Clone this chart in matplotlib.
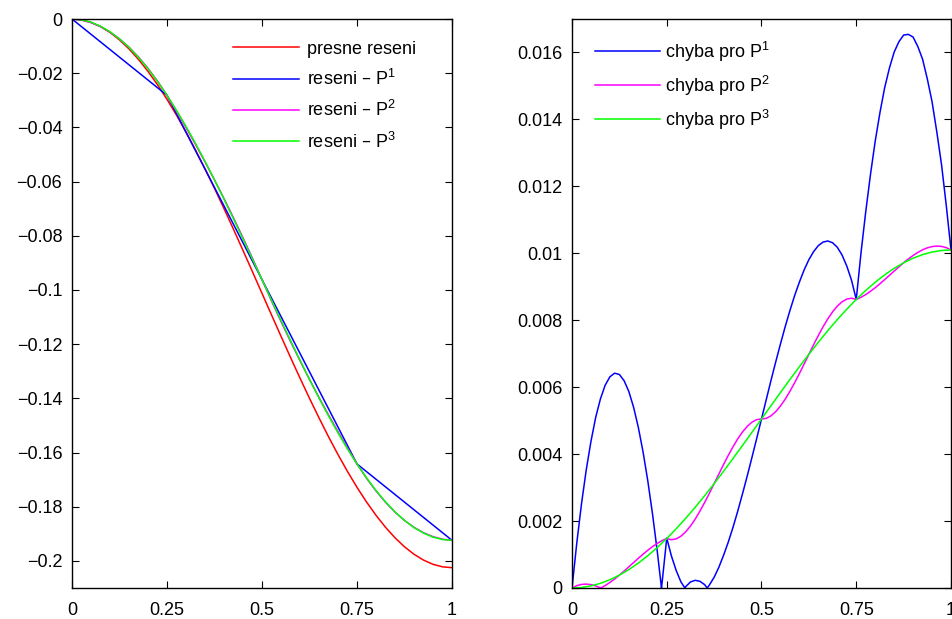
#!/usr/bin/env python3

import matplotlib
matplotlib.use('Agg')
import matplotlib.pyplot as plt
from matplotlib.ticker import FuncFormatter

plt.rcParams['font.family'] = ['Liberation Sans', 'DejaVu Sans']
plt.rcParams['mathtext.default'] = 'regular'

# left panel: solution curves
x_sol = [0, 0.025, 0.05, 0.075, 0.1, 0.125, 0.15, 0.175, 0.2, 0.225, 0.25,
         0.275, 0.3, 0.325, 0.35, 0.375, 0.4, 0.425, 0.45, 0.475, 0.5,
         0.525, 0.55, 0.575, 0.6, 0.625, 0.65, 0.675, 0.7, 0.725, 0.75,
         0.775, 0.8, 0.825, 0.85, 0.875, 0.9, 0.925, 0.95, 0.975, 1]
u_exact = [0, -0.000312, -0.001247, -0.002798, -0.004956, -0.007707,
           -0.011036, -0.01492, -0.019337, -0.024259, -0.029656, -0.035495,
           -0.041737, -0.048347, -0.055284, -0.062503, -0.069962, -0.077614,
           -0.085411, -0.093306, -0.10125, -0.109194, -0.117089, -0.124886,
           -0.132538, -0.139997, -0.147216, -0.154153, -0.160763, -0.167005,
           -0.172844, -0.178241, -0.183163, -0.18758, -0.191464, -0.194793,
           -0.197544, -0.199702, -0.201253, -0.202188, -0.2025]
u_p2 = [0, -0.000418, -0.001347, -0.002801, -0.00479, -0.007323, -0.010403,
        -0.014033, -0.01821, -0.022927, -0.028176, -0.034027, -0.040058,
        -0.046289, -0.052728, -0.059386, -0.066271, -0.073389, -0.080748,
        -0.08835, -0.0962, -0.10405, -0.111652, -0.11901, -0.126129,
        -0.133014, -0.139672, -0.146111, -0.152342, -0.158373, -0.164224,
        -0.169473, -0.17419, -0.178367, -0.181997, -0.185077, -0.18761,
        -0.189599, -0.191053, -0.191982, -0.1924]
u_p3 = [0, -0.000296, -0.001184, -0.002658, -0.004708, -0.007323, -0.010485,
        -0.014176, -0.018373, -0.023049, -0.028176, -0.033725, -0.039655,
        -0.045936, -0.052526, -0.059386, -0.066473, -0.073742, -0.081151,
        -0.088652, -0.0962, -0.103748, -0.111249, -0.118657, -0.125927,
        -0.133014, -0.139874, -0.146464, -0.152745, -0.158675, -0.164224,
        -0.169351, -0.174027, -0.178224, -0.181915, -0.185077, -0.187692,
        -0.189742, -0.191216, -0.192104, -0.1924]
x_nodes = [0, 0.25, 0.5, 0.75, 1]
u_p1 = [0, -0.028176, -0.0962, -0.164224, -0.1924]

# right panel: errors
x_err1 = [0, 0.0125, 0.025, 0.0375, 0.05, 0.0625, 0.075, 0.0875, 0.1, 0.1125,
          0.125, 0.1375, 0.15, 0.1625, 0.175, 0.1875, 0.2, 0.2125, 0.225,
          0.2361, 0.2375, 0.25, 0.2625, 0.275, 0.2875, 0.2979, 0.3, 0.3125,
          0.325, 0.3375, 0.35, 0.3567, 0.3625, 0.375, 0.3875, 0.4, 0.4125,
          0.425, 0.4375, 0.45, 0.4625, 0.475, 0.4875, 0.5, 0.5125, 0.525,
          0.5375, 0.55, 0.5625, 0.575, 0.5875, 0.6, 0.6125, 0.625, 0.6375,
          0.65, 0.6625, 0.675, 0.6875, 0.7, 0.7125, 0.725, 0.7375, 0.75,
          0.7625, 0.775, 0.7875, 0.8, 0.8125, 0.825, 0.8375, 0.85, 0.8625,
          0.875, 0.8875, 0.9, 0.9125, 0.925, 0.9375, 0.95, 0.9625, 0.975,
          0.9875, 1]
err1 = [0, 0.00133, 0.00251, 0.003524, 0.00438, 0.005097, 0.00565, 0.006058,
        0.00631, 0.006418, 0.00638, 0.006193, 0.00587, 0.005401, 0.0048,
        0.004064, 0.0032, 0.002208, 0.001094, 0, 0.00014, 0.00149, 0.00095,
        0.00052, 0.00018, 0, 0.00004, 0.00018, 0.00023, 0.0002, 0.0001, 0,
        0.00009, 0.00032, 0.000619, 0.00098, 0.001377, 0.00182, 0.002304,
        0.00282, 0.003353, 0.00391, 0.004476, 0.00505, 0.005626, 0.0062,
        0.006754, 0.00729, 0.007808, 0.00829, 0.00874, 0.00914, 0.009503,
        0.00981, 0.01005, 0.01023, 0.010336, 0.010367, 0.010316, 0.01018,
        0.00995, 0.00962, 0.009198, 0.00862, 0.010009, 0.01124, 0.01235,
        0.01335, 0.014201, 0.01495, 0.015533, 0.01601, 0.016321, 0.01652,
        0.016541, 0.01646, 0.016176, 0.0158, 0.01521, 0.01453, 0.013631,
        0.01265, 0.011433, 0.0101]

x_err2 = [0, 0.0125, 0.025, 0.0375, 0.05, 0.0625, 0.0765, 0.0875, 0.1,
          0.1125, 0.125, 0.1375, 0.15, 0.1625, 0.175, 0.1875, 0.2, 0.2125,
          0.225, 0.2375, 0.25, 0.2625, 0.275, 0.2875, 0.3, 0.3125, 0.325,
          0.3375, 0.35, 0.3625, 0.375, 0.3875, 0.4, 0.4125, 0.425, 0.4375,
          0.45, 0.4625, 0.475, 0.4875, 0.5, 0.5125, 0.525, 0.5375, 0.55,
          0.5625, 0.575, 0.5875, 0.6, 0.6125, 0.625, 0.6375, 0.65, 0.6625,
          0.675, 0.6875, 0.7, 0.7125, 0.725, 0.7375, 0.75, 0.7625, 0.775,
          0.7875, 0.8, 0.8125, 0.825, 0.8375, 0.85, 0.8625, 0.875, 0.8875,
          0.9, 0.9125, 0.925, 0.9375, 0.95, 0.9625, 0.975, 0.9875, 1]
err2 = [0, 0.000069, 0.000107, 0.000117, 0.000101, 0.000062, 0, 0.000074,
        0.000165, 0.00027, 0.000384, 0.000506, 0.000632, 0.00076, 0.000887,
        0.00101, 0.001128, 0.001236, 0.001332, 0.001415, 0.001479, 0.001442,
        0.001468, 0.001549, 0.001679, 0.00185, 0.002058, 0.002295, 0.002555,
        0.002832, 0.003117, 0.003406, 0.003692, 0.003966, 0.004224, 0.004459,
        0.004663, 0.004831, 0.004956, 0.005032, 0.00505, 0.005068, 0.005144,
        0.005269, 0.005437, 0.005641, 0.005876, 0.006134, 0.006408, 0.006694,
        0.006983, 0.007268, 0.007545, 0.007805, 0.008042, 0.00825, 0.008421,
        0.008551, 0.008632, 0.008658, 0.008621, 0.008685, 0.008768, 0.008864,
        0.008972, 0.00909, 0.009213, 0.00934, 0.009468, 0.009594, 0.009716,
        0.00983, 0.009935, 0.010026, 0.010104, 0.010162, 0.0102, 0.010217,
        0.010206, 0.010169, 0.0101]

x_err3 = [0, 0.025, 0.05, 0.075, 0.1, 0.125, 0.15, 0.175, 0.2, 0.225, 0.25,
          0.275, 0.3, 0.325, 0.35, 0.375, 0.4, 0.425, 0.45, 0.475, 0.5,
          0.525, 0.55, 0.575, 0.6, 0.625, 0.65, 0.675, 0.7, 0.725, 0.75,
          0.775, 0.8, 0.825, 0.85, 0.875, 0.9, 0.925, 0.95, 0.975, 1]
err3 = [0, 0.0000156, 0.0000622, 0.00014, 0.000247, 0.000384, 0.00055,
        0.000744, 0.000965, 0.00121, 0.001479, 0.00177, 0.002082, 0.002411,
        0.002757, 0.003117, 0.00349, 0.003871, 0.00426, 0.004654, 0.00505,
        0.005446, 0.00584, 0.006229, 0.00661, 0.006983, 0.007343, 0.007689,
        0.008018, 0.00833, 0.008621, 0.00889, 0.009135, 0.009356, 0.00955,
        0.009716, 0.009853, 0.009961, 0.010037, 0.010084, 0.0101]

x_ticks = [0, 0.25, 0.5, 0.75, 1]
left_yticks = [0, -0.02, -0.04, -0.06, -0.08, -0.1, -0.12, -0.14, -0.16,
               -0.18, -0.2]
right_yticks = [0, 0.002, 0.004, 0.006, 0.008, 0.01, 0.012, 0.014, 0.016]

FS = 13


def fmt(v, pos):
    return ('%g' % v).replace('-', '\u2212')


def style_axes(ax):
    ax.tick_params(direction='in', length=5, width=0.8, top=True, right=True,
                   labelsize=FS)
    ax.tick_params(axis='x', pad=10)
    ax.tick_params(axis='y', pad=7)
    for s in ax.spines.values():
        s.set_linewidth(1.0)
    ax.set_xticks(x_ticks)
    ax.xaxis.set_major_formatter(FuncFormatter(fmt))
    ax.yaxis.set_major_formatter(FuncFormatter(fmt))


def main():
    fig = plt.figure(figsize=(9.53, 6.19), dpi=100)
    ax1 = fig.add_axes([72 / 953, 1 - 588 / 619, 380 / 953, 569 / 619])
    ax2 = fig.add_axes([572 / 953, 1 - 588 / 619, 379 / 953, 569 / 619])

    lw = 1.1
    ax1.plot(x_sol, u_exact, color='#ff0000', lw=lw, label='presne reseni')
    ax1.plot(x_nodes, u_p1, color='#0000ff', lw=lw, label='reseni – P$^1$')
    ax1.plot(x_sol, u_p2, color='#ff00ff', lw=lw, label='reseni – P$^2$')
    ax1.plot(x_sol, u_p3, color='#00ff00', lw=lw, label='reseni – P$^3$')
    ax1.set_xlim(0, 1)
    ax1.set_ylim(-0.21, 0)
    style_axes(ax1)
    ax1.set_yticks(left_yticks)
    ax1.legend(loc='upper left', bbox_to_anchor=(0.425, 0.962), frameon=False,
               fontsize=FS, handlelength=3.6, handletextpad=0.45,
               labelspacing=0.62, borderpad=0, borderaxespad=0)

    ax2.plot(x_err1, err1, color='#0000ff', lw=lw, label='chyba pro P$^1$')
    ax2.plot(x_err2, err2, color='#ff00ff', lw=lw, label='chyba pro P$^2$')
    ax2.plot(x_err3, err3, color='#00ff00', lw=lw, label='chyba pro P$^3$')
    ax2.set_xlim(0, 1)
    ax2.set_ylim(0, 0.017)
    style_axes(ax2)
    ax2.set_yticks(right_yticks)
    ax2.legend(loc='upper left', bbox_to_anchor=(0.06, 0.964), frameon=False,
               fontsize=FS, handlelength=3.6, handletextpad=0.3,
               labelspacing=0.55, borderpad=0, borderaxespad=0)

    fig.savefig('out.png', dpi=100)


if __name__ == '__main__':
    main()
